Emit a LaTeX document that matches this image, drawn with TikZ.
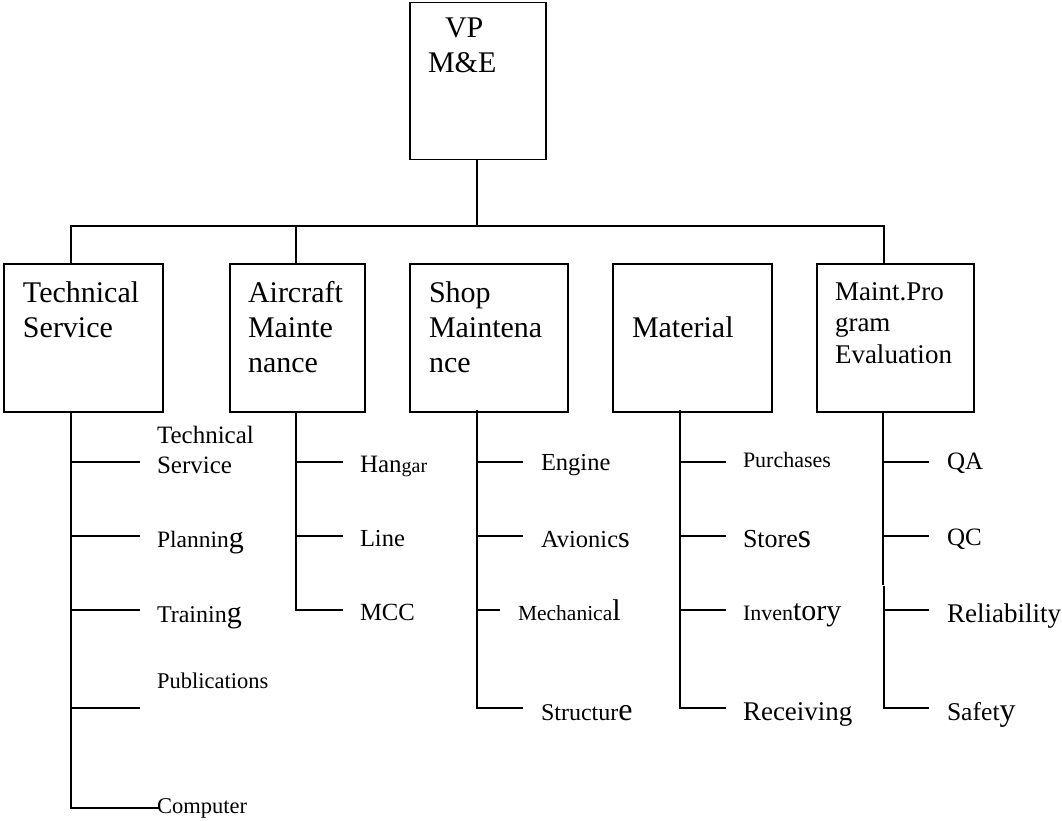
\documentclass[tikz,border=0pt]{standalone}
\usepackage{fontspec}
\setmainfont{Liberation Serif}
% local size switch for mixed-size words
\newcommand\sz[2]{{\fontsize{#1pt}{#1pt}\selectfont #2}}
\tikzset{
  box/.style={draw, line width=1.5pt, rectangle, inner sep=0pt, anchor=north west},
  wire/.style={line width=1.5pt, line cap=rect},
  % multi-line titles are placed by the baseline of their last line
  head/.style={anchor=base west, inner sep=0pt, outer sep=0pt, align=left,
               font=\fontsize{30pt}{35pt}\selectfont},
  sub/.style={anchor=base west, inner sep=0pt, outer sep=0pt},
}
\begin{document}
\begin{tikzpicture}[x=1pt, y=-1pt]
\useasboundingbox (0,0) rectangle (1062,821);

% ---- boxes ----
\node[box, minimum width=136pt, minimum height=157pt] (vp)  at (409,2)   {};
\node[box, minimum width=159pt, minimum height=148pt] (ts)  at (3,263)   {};
\node[box, minimum width=135pt, minimum height=148pt] (am)  at (229,263) {};
\node[box, minimum width=158pt, minimum height=148pt] (sm)  at (409,263) {};
\node[box, minimum width=159pt, minimum height=148pt] (mat) at (612,263) {};
\node[box, minimum width=157pt, minimum height=148pt] (mpe) at (816,263) {};

% ---- box titles ----
\node[head] (vpA) at (445,38) {VP};
\node[head] (vpB) at (428,73) {M\&E};
\node[head] (tsT) at (23,337)  {Technical\\Service};
\node[head] (amT) at (248,372) {Aircraft\\Mainte\\nance};
\node[head] (smT) at (429,372) {Shop\\Maintena\\nce};
\node[head] (matT) at (632,337) {Material};
\node[head, font=\fontsize{27pt}{31.5pt}\selectfont] (mpeT) at (835,363) {Maint.Pro\\gram\\Evaluation};

% ---- top level connectors ----
\coordinate (jVP) at (477,226);
\coordinate (jTS) at (71,226);
\coordinate (jAM) at (296,226);
\coordinate (jMP) at (884,226);
\draw[wire] (vp.south -| jVP) -- (jVP);
\draw[wire] (jTS) -- (jMP);
\draw[wire] (jTS) -- (jTS |- ts.north);
\draw[wire] (jAM) -- (jAM |- am.north);
\draw[wire] (jMP) -- (jMP |- mpe.north);

% ---- Technical Service column ----
\coordinate (ts1) at (139,462);
\coordinate (ts2) at (139,536);
\coordinate (ts3) at (139,610);
\coordinate (ts4) at (139,708);
\coordinate (ts5) at (158,808);
\draw[wire] (ts.south -| jTS) -- (ts5 -| jTS) -- (ts5);
\foreach \t in {ts1,ts2,ts3,ts4} \draw[wire] (\t -| jTS) -- (\t);
\node[sub, align=left, font=\fontsize{25pt}{30pt}\selectfont] (lTS) at (157,473) {Technical\\Service};
\node[sub, font=\fontsize{23.5pt}{23.5pt}\selectfont] (lPl) at (157,547) {Plannin\sz{30}{g}};
\node[sub, font=\fontsize{24pt}{24pt}\selectfont] (lTr) at (157,622) {Trainin\sz{30}{g}};
\node[sub, font=\fontsize{22.5pt}{22.5pt}\selectfont] (lPu) at (157,688) {Publications};
\node[sub, font=\fontsize{22.5pt}{22.5pt}\selectfont] (lCo) at (157,813) {Computer};

% ---- Aircraft Maintenance column ----
\coordinate (am1) at (342,462);
\coordinate (am2) at (342,536);
\coordinate (am3) at (342,610);
\draw[wire] (am.south -| jAM) -- (am3 -| jAM) -- (am3);
\foreach \t in {am1,am2} \draw[wire] (\t -| jAM) -- (\t);
\node[sub, font=\fontsize{25pt}{25pt}\selectfont] (lHa) at (360,472) {Han\sz{20}{gar}};
\node[sub, font=\fontsize{24.5pt}{24.5pt}\selectfont] (lLi) at (360,546) {Line};
\node[sub, font=\fontsize{24.7pt}{24.7pt}\selectfont] (lMC) at (360,620) {MCC};

% ---- Shop Maintenance column ----
\coordinate (jSM) at (477,411);
\coordinate (sm1) at (522,462);
\coordinate (sm2) at (522,536);
\coordinate (sm3) at (499,610);
\coordinate (sm4) at (522,708);
\draw[wire] (jSM) -- (sm4 -| jSM) -- (sm4);
\foreach \t in {sm1,sm2,sm3} \draw[wire] (\t -| jSM) -- (\t);
\node[sub, font=\fontsize{24.5pt}{24.5pt}\selectfont] (lEn) at (541,470) {Engine};
\node[sub, font=\fontsize{24.5pt}{24.5pt}\selectfont] (lAv) at (541,547) {Avionic\sz{30}{s}};
\node[sub, font=\fontsize{21.5pt}{21.5pt}\selectfont] (lMe) at (518,620) {Mechanica\sz{30}{l}};
\node[sub, font=\fontsize{24pt}{24pt}\selectfont] (lSt) at (541,720) {Structur\sz{32}{e}};

% ---- Material column ----
\coordinate (jMA) at (680,411);
\coordinate (ma1) at (725,462);
\coordinate (ma2) at (725,536);
\coordinate (ma3) at (725,610);
\coordinate (ma4) at (725,708);
\draw[wire] (jMA) -- (ma4 -| jMA) -- (ma4);
\foreach \t in {ma1,ma2,ma3} \draw[wire] (\t -| jMA) -- (\t);
\node[sub, font=\fontsize{22pt}{22pt}\selectfont] (lPc) at (743,467) {Purchases};
\node[sub, font=\fontsize{26pt}{26pt}\selectfont] (lSo) at (743,547) {Store\sz{34}{s}};
\node[sub, font=\fontsize{22pt}{22pt}\selectfont] (lIn) at (743,620) {Inven\sz{30}{tory}};
\node[sub, font=\fontsize{27pt}{27pt}\selectfont] (lRe) at (743,720) {Receiving};

% ---- Maint. Program Evaluation column ----
\coordinate (mp1) at (928,462);
\coordinate (mp2) at (928,536);
\coordinate (mp3) at (928,610);
\coordinate (mp4) at (928,708);
\coordinate (mpGap) at (883,584);
\draw[wire] (mpe.south -| 883,0) -- (mpGap);
\draw[wire] (884,587) -- (mp4 -| 884,0) -- (mp4);
\draw[wire] (mp1 -| 883,0) -- (mp1);
\draw[wire] (mp2 -| 883,0) -- (mp2);
\draw[wire] (mp3 -| 884,0) -- (mp3);
\node[sub, font=\fontsize{25pt}{25pt}\selectfont] (lQA) at (947,469) {QA};
\node[sub, font=\fontsize{25pt}{25pt}\selectfont] (lQC) at (947,545) {QC};
\node[sub, font=\fontsize{27pt}{27pt}\selectfont] (lRl) at (947,622) {Reliability};
\node[sub, font=\fontsize{25.6pt}{25.6pt}\selectfont] (lSa) at (947,720) {Safet\sz{32}{y}};
\end{tikzpicture}
\end{document}
